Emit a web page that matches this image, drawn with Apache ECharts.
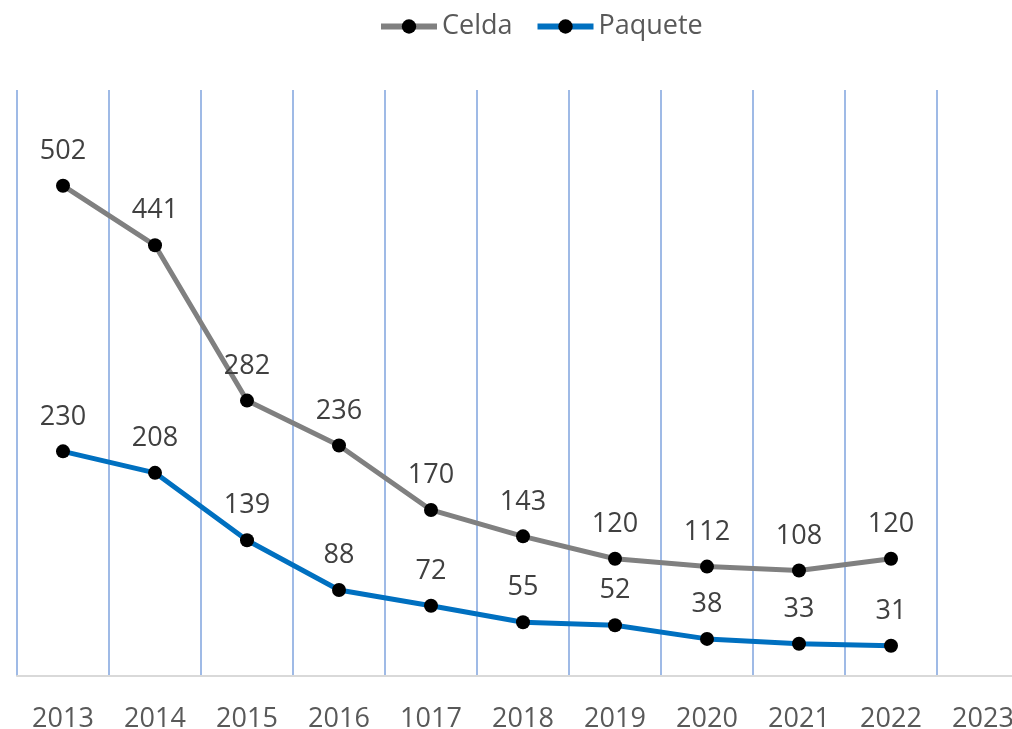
<!DOCTYPE html>
<html>
<head>
<meta charset="utf-8">
<script src="https://cdn.jsdelivr.net/npm/echarts@6/dist/echarts.min.js"></script>
<style>html,body{margin:0;padding:0;background:#fff;}#c{width:1012px;height:729px;}</style>
</head>
<body>
<div id="c"></div>
<script>
var categories = ['2013','2014','2015','2016','1017','2018','2019','2020','2021','2022','2023'];
var celda = [502, 441, 282, 236, 170, 143, 120, 112, 108, 120, null];
var paquete = [230, 208, 139, 88, 72, 55, 52, 38, 33, 31, null];

var chart = echarts.init(document.getElementById('c'));
var font = '"Open Sans", "Noto Sans", sans-serif';
var labelCfg = { show: true, position: 'top', distance: 14, color: '#404040', fontSize: 27, fontFamily: font };
chart.setOption({
  animation: false,
  legend: {
    top: 8, left: 373,
    itemWidth: 56, itemHeight: 18, itemGap: 22,
    lineStyle: { width: 6 },
    itemStyle: { color: '#000000' },
    textStyle: { color: '#595959', fontSize: 27, fontFamily: font },
    data: ['Celda', 'Paquete']
  },
  grid: { left: 17, top: 90, width: 1012, bottom: 53, outerBoundsMode: 'none', containLabel: false },
  xAxis: {
    type: 'category', data: categories, boundaryGap: true,
    axisLine: { lineStyle: { color: '#D9D9D9', width: 2 } },
    axisTick: { show: false },
    axisLabel: { color: '#595959', fontSize: 27, fontFamily: font, margin: 30 },
    splitLine: { show: true, lineStyle: { color: '#9FBAE6', width: 2 } }
  },
  yAxis: { type: 'value', min: 0, max: 600, show: false, splitLine: { show: false } },
  series: [
    { name: 'Celda', type: 'line', data: celda, symbol: 'circle', symbolSize: 14,
      lineStyle: { color: '#808080', width: 5 }, itemStyle: { color: '#000000' },
      label: labelCfg, connectNulls: false },
    { name: 'Paquete', type: 'line', data: paquete, symbol: 'circle', symbolSize: 14,
      lineStyle: { color: '#0070C0', width: 5 }, itemStyle: { color: '#000000' },
      label: labelCfg, connectNulls: false }
  ]
});
</script>
</body>
</html>
